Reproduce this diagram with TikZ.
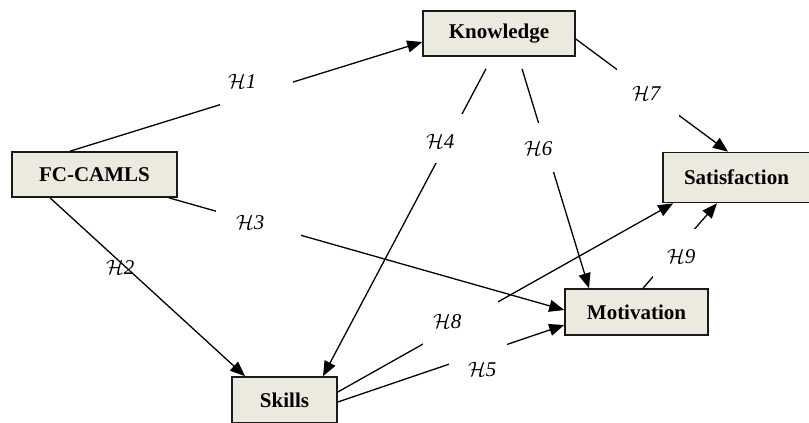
\documentclass[tikz,border=0pt]{standalone}
\usepackage{fontspec}
\setmainfont{Liberation Serif}
\usetikzlibrary{arrows.meta}
\definecolor{boxfill}{HTML}{ECEADF}
\newcommand\hlabtext[3]{\makebox[#2pt][l]{\hspace*{#1pt}\fontsize{21}{24}\selectfont$\mathcal{H}\mathit{#3}$}}
\begin{document}
\begin{tikzpicture}[x=1pt,y=-1pt,
  vbox/.style={draw=black!90,line width=1.6pt,fill=boxfill,inner sep=0pt,
    font=\fontsize{21}{24}\selectfont\bfseries},
  conn/.style={line width=1.3pt,-{Triangle[length=15pt,width=12pt]}},
  gaplab/.style={fill=white,inner sep=0pt,anchor=base west}]
\useasboundingbox (0,0) rectangle (809,423);
\clip (0,0) rectangle (809,423);
% boxes
\node[vbox,minimum width=165pt,minimum height=45pt] (fc) at (94.5,174.5) {FC-CAMLS};
\node[vbox,minimum width=152pt,minimum height=45pt] (kn) at (499,33.5) {Knowledge};
\node[vbox,minimum width=147pt,minimum height=50pt] (sa) at (736.5,177.5) {Satisfaction};
\node[vbox,minimum width=143pt,minimum height=46pt] (mo) at (636.5,312) {Motivation};
\node[vbox,minimum width=105pt,minimum height=46pt] (sk) at (284.5,400) {Skills};
% connectors
\draw[conn] ([xshift=-24.5pt]fc.north) -- ([yshift=-8.5pt]kn.west);
\draw[conn] ([xshift=-44.5pt]fc.south) -- ([xshift=-39.5pt]sk.north);
\draw[conn] ([xshift=-9pt]fc.south east) -- ([yshift=2pt]mo.west);
\draw[conn] ([xshift=-13pt,yshift=-12pt]kn.south) -- ([xshift=38.5pt]sk.north);
\draw[conn] ([xshift=23pt,yshift=-12pt]kn.south) -- ([xshift=-47.5pt]mo.north);
\draw[conn] ([yshift=-5.5pt]kn.east) -- ([xshift=-8.5pt]sa.north);
\draw[conn] ([yshift=8pt]sk.east) -- ([xshift=11pt]sa.south west);
\draw[conn] ([yshift=-2pt]sk.east) -- ([yshift=-13pt]mo.west);
\draw[conn] ([xshift=6.5pt]mo.north) -- ([xshift=-19.5pt]sa.south);
% labels
\node[gaplab,text height=18pt,text depth=17pt] (h1) at (220,88) {\hlabtext{8}{73}{1}};
\node[inner sep=0pt,anchor=base west] (h2) at (106,274) {\hlabtext{0}{30}{2}};
\node[gaplab,text height=24pt,text depth=8pt] (h3) at (216,229) {\hlabtext{20}{85}{3}};
\node[gaplab,text height=34pt,text depth=15pt] (h4) at (420,148) {\hlabtext{6}{45}{4}};
\node[gaplab,text height=32pt,text depth=17pt] (h6) at (518,155) {\hlabtext{6}{42}{6}};
\node[gaplab,text height=32pt,text depth=17pt] (h7) at (617,100) {\hlabtext{15}{62}{7}};
\node[gaplab,text height=29pt,text depth=18pt] (h8) at (423,328) {\hlabtext{10}{75}{8}};
\node[gaplab,text height=36pt,text depth=4pt] (h5) at (449,376) {\hlabtext{19}{58}{5}};
\node[gaplab,text height=34pt,text depth=15pt] (h9) at (653,263) {\hlabtext{14}{45}{9}};
\end{tikzpicture}
\end{document}
